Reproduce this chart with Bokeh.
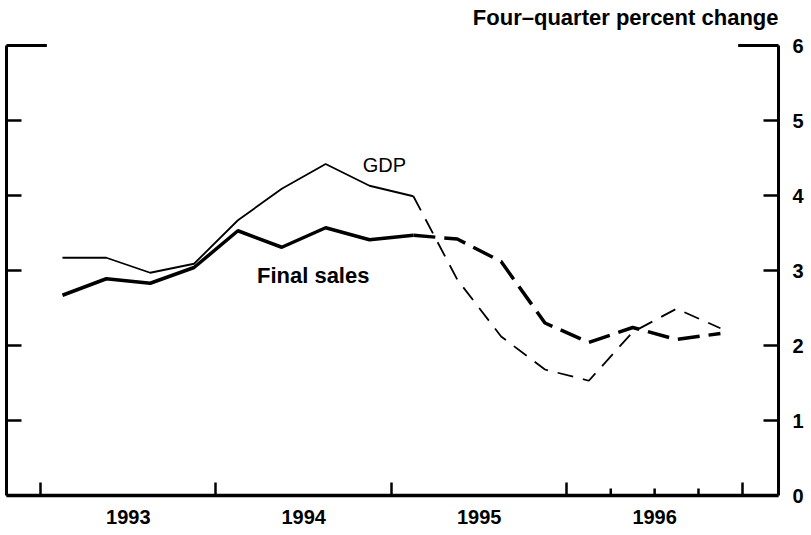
from bokeh.plotting import figure
from bokeh.models import LinearAxis, FixedTicker, CustomJSTickFormatter, Range1d, Grid
from bokeh.embed import file_html
from bokeh.resources import INLINE
from bokeh.core.properties import value

# ---------------- data ----------------
quarters = ["1993Q1", "1993Q2", "1993Q3", "1993Q4",
            "1994Q1", "1994Q2", "1994Q3", "1994Q4",
            "1995Q1", "1995Q2", "1995Q3", "1995Q4",
            "1996Q1", "1996Q2", "1996Q3", "1996Q4"]
gdp = [3.17, 3.17, 2.97, 3.09, 3.67, 4.09, 4.42, 4.13,
       3.99, 2.88, 2.12, 1.68, 1.53, 2.18, 2.49, 2.23]
final_sales = [2.67, 2.89, 2.83, 3.04, 3.53, 3.31, 3.57, 3.41,
               3.47, 3.42, 3.12, 2.30, 2.04, 2.24, 2.08, 2.16]
n_actual = 9          # first 9 quarters are actual (solid), rest projected (dashed)
years = [1993, 1994, 1995, 1996]
year_bounds = [1993, 1994, 1995, 1996, 1997]
quarter_ticks_1996 = [1996.25, 1996.5, 1996.75]
y_ticks = [0, 1, 2, 3, 4, 5, 6]
units_label = "Four\u2013quarter percent change"

FONT = "Liberation Sans"

x = [int(q[:4]) + (int(q[5]) - 0.5) / 4 for q in quarters]

p = figure(width=811, height=535, output_backend="svg", toolbar_location=None,
           x_range=Range1d(1992.806, 1997.206), y_range=Range1d(0, 6.6),
           x_axis_location=None, y_axis_location=None,
           min_border_left=6, min_border_right=33, min_border_top=0, min_border_bottom=40)
p.outline_line_color = None
p.background_fill_color = "white"
for r in list(p.center):
    if isinstance(r, Grid):
        r.visible = False

# bottom axis: labels at year centres, ticks at year boundaries (minor)
bottom = LinearAxis(
    ticker=FixedTicker(ticks=[yy + 0.5 for yy in years], minor_ticks=year_bounds),
    formatter=CustomJSTickFormatter(code="return Math.floor(tick).toString();"),
    major_tick_in=0, major_tick_out=0,
    minor_tick_in=13, minor_tick_out=0, minor_tick_line_width=2.5, minor_tick_line_color="black",
    axis_line_width=3.5, axis_line_color="black",
    major_label_standoff=14,
    major_label_text_font=FONT, major_label_text_font_size="20px",
    major_label_text_font_style="bold", major_label_text_color="black")
p.add_layout(bottom, "below")

# right axis with labels (line limited to 0..6)
right = LinearAxis(
    ticker=FixedTicker(ticks=y_ticks), bounds=(y_ticks[0], y_ticks[-1]),
    major_tick_in=15, major_tick_out=0, major_tick_line_width=2.5, major_tick_line_color="black",
    minor_tick_in=0, minor_tick_out=0,
    axis_line_width=3, axis_line_color="black",
    major_label_standoff=14,
    major_label_text_font=FONT, major_label_text_font_size="20px",
    major_label_text_font_style="bold", major_label_text_color="black")
p.add_layout(right, "right")

# left axis, ticks only
left = LinearAxis(
    ticker=FixedTicker(ticks=y_ticks), bounds=(y_ticks[0], y_ticks[-1]),
    major_tick_in=15, major_tick_out=0, major_tick_line_width=2.5, major_tick_line_color="black",
    minor_tick_in=0, minor_tick_out=0,
    axis_line_width=3, axis_line_color="black",
    major_label_standoff=0, major_label_text_font_size="0px", major_label_text_alpha=0)
p.add_layout(left, "left")

# broken top border (corner pieces only)
w = 0.23
xs0 = p.x_range.start
xs1 = p.x_range.end
p.segment(x0=[xs0, xs1 - w], x1=[xs0 + w, xs1], y0=[y_ticks[-1]] * 2, y1=[y_ticks[-1]] * 2,
          line_color="black", line_width=3)

# quarter ticks in 1996
p.segment(x0=quarter_ticks_1996, x1=quarter_ticks_1996, y0=[0] * 3, y1=[0.093] * 3,
          line_color="black", line_width=2.5)

# units label, right aligned over the right axis
p.text(x=[xs1], y=[6.37], text=[units_label], text_font=value(FONT),
       text_font_size=value("22px"), text_font_style="bold", text_align="right",
       text_baseline="alphabetic", text_color="black")

# series
p.line(x[:n_actual], gdp[:n_actual], line_color="black", line_width=1.8)
p.line(x[n_actual - 1:], gdp[n_actual - 1:], line_color="black", line_width=1.8,
       line_dash="16 10")
p.line(x[:n_actual], final_sales[:n_actual], line_color="black", line_width=3.5)
p.line(x[n_actual - 1:], final_sales[n_actual - 1:], line_color="black", line_width=3.5,
       line_dash="22 9")

# labels
p.text(x=[1994.96], y=[4.41], text=["GDP"], text_font=value(FONT),
       text_font_size=value("20px"), text_align="center", text_baseline="middle",
       text_color="black")
p.text(x=[1994.554], y=[2.93], text=["Final sales"], text_font=value(FONT),
       text_font_size=value("22px"), text_font_style="bold", text_align="center",
       text_baseline="middle", text_color="black")

open("out.html", "w").write(file_html(p, INLINE))
